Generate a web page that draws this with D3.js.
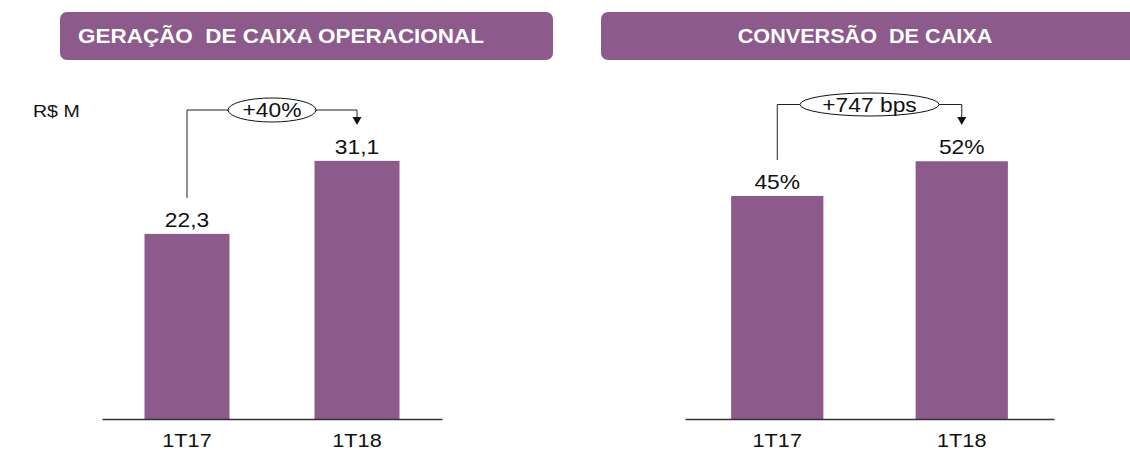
<!DOCTYPE html>
<html>
<head>
<meta charset="utf-8">
<script src="https://cdn.jsdelivr.net/npm/d3@7"></script>
<style>
  html, body { margin: 0; padding: 0; background: #fff; }
  svg { display: block; font-family: "Liberation Sans", Arial, sans-serif; }
  text { white-space: pre; }
</style>
</head>
<body>
<svg id="chart" width="1130" height="452"></svg>
<script>
// Quarters shown on both panels
const categories = ["1T17", "1T18"];
// Operational cash generation, R$ millions
const cashGeneration = [22.3, 31.1];
// Cash conversion, %
const cashConversion = [45, 52];
// Growth badges between the two quarters
const growthLabels = ["+40%", "+747 bps"];
// Panel titles and unit note
const panelTitles = ["GERAÇÃO  DE CAIXA OPERACIONAL", "CONVERSÃO  DE CAIXA"];
const unitLabel = "R$ M";

const PURPLE = "#8c5b8b";
const INK = "#111";
const TEXT_SX = 1.14;   // wide rendering of the label type

const ptBR = d3.formatLocale({ decimal: ",", thousands: ".", grouping: [3], currency: ["R$", ""] });
const fmtMillions = ptBR.format(".1f");
const fmtPct = v => d3.format("d")(v) + "%";

const svg = d3.select("#chart");

const panels = [
  {
    title: panelTitles[0], titleX: 281, header: [60, 553], titleSx: 1.07,
    values: cashGeneration, fmt: fmtMillions, badge: growthLabels[0],
    xRange: [102, 442], yDomain: [0, 40], yTop: 87,
    connectorY: 110, badgeRx: 44, badgeRy: 12, unit: true
  },
  {
    title: panelTitles[1], titleX: 865, header: [601, 1140], titleSx: 1.03,
    values: cashConversion, fmt: fmtPct, badge: growthLabels[1],
    xRange: [685, 1054], yDomain: [0, 70], yTop: 72,
    connectorY: 104.5, badgeRx: 69.5, badgeRy: 11.5, unit: false
  }
];

const baseY = 419;

function wideText(g, x, y, str, opts) {
  const t = g.append("text")
    .attr("transform", `translate(${x},${y}) scale(${opts.sx || TEXT_SX},1)`)
    .attr("text-anchor", opts.anchor || "middle")
    .attr("font-size", opts.size || 20)
    .attr("fill", opts.fill || INK)
    .text(str);
  if (opts.weight) t.attr("font-weight", opts.weight);
  return t;
}

panels.forEach(p => {
  const g = svg.append("g");

  // title banner
  g.append("rect")
    .attr("x", p.header[0]).attr("y", 12)
    .attr("width", p.header[1] - p.header[0]).attr("height", 48)
    .attr("rx", 7).attr("ry", 7)
    .attr("fill", PURPLE);
  wideText(g, p.titleX, 43, p.title, { size: 21, weight: "bold", fill: "#fff", sx: p.titleSx });

  const x = d3.scaleBand().domain(categories).range(p.xRange)
    .paddingInner(0.5).paddingOuter(0.25);
  const y = d3.scaleLinear().domain(p.yDomain).range([baseY, p.yTop]);

  // bars
  g.selectAll("rect.bar").data(p.values).join("rect")
    .attr("class", "bar")
    .attr("x", (d, i) => x(categories[i]))
    .attr("y", d => y(d))
    .attr("width", x.bandwidth())
    .attr("height", d => y(0) - y(d))
    .attr("fill", PURPLE);

  // baseline axis with category labels
  const axis = g.append("g").attr("transform", `translate(0,${baseY})`)
    .call(d3.axisBottom(x).tickSize(0).tickPadding(0));
  axis.select(".domain").attr("stroke", "#333").attr("stroke-width", 1.3);
  axis.selectAll(".tick text").remove();
  categories.forEach(c => {
    wideText(g, x(c) + x.bandwidth() / 2, 447, c, { size: 19 });
  });

  // value labels
  p.values.forEach((v, i) => {
    wideText(g, x(categories[i]) + x.bandwidth() / 2, y(v) - 7, p.fmt(v), {});
  });

  // growth connector: from above first bar, through badge, arrow down to second
  const x0 = x(categories[0]) + x.bandwidth() / 2;
  const x1 = x(categories[1]) + x.bandwidth() / 2;
  const cx = (x0 + x1) / 2;
  const cy = p.connectorY;
  const startY = y(p.values[0]) - 36;
  const tipY = 125;

  g.append("path")
    .attr("d", `M${x0},${startY}V${cy}H${cx - p.badgeRx}`)
    .attr("fill", "none").attr("stroke", "#222").attr("stroke-width", 1);
  g.append("path")
    .attr("d", `M${cx + p.badgeRx},${cy}H${x1}V${tipY - 7}`)
    .attr("fill", "none").attr("stroke", "#222").attr("stroke-width", 1);
  g.append("path")
    .attr("d", `M${x1 - 4.5},${tipY - 8}L${x1 + 4.5},${tipY - 8}L${x1},${tipY}Z`)
    .attr("fill", "#111");

  g.append("ellipse")
    .attr("cx", cx).attr("cy", cy)
    .attr("rx", p.badgeRx).attr("ry", p.badgeRy)
    .attr("fill", "#fff").attr("stroke", "#111").attr("stroke-width", 1);
  wideText(g, cx, cy + 7, p.badge, {});

  if (p.unit) {
    wideText(g, 33, 117, unitLabel, { size: 17, anchor: "start", sx: 1.15 });
  }
});
</script>
</body>
</html>
